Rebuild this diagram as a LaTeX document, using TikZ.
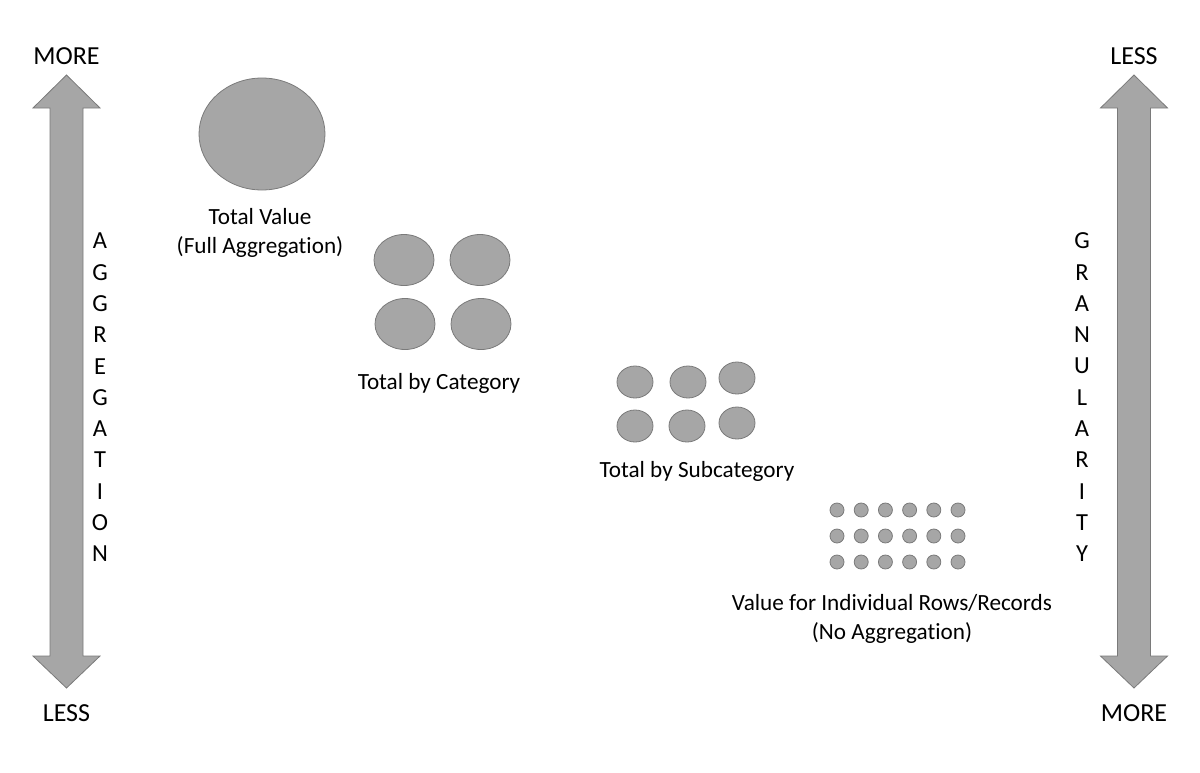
\documentclass[tikz,border=0pt]{standalone}
\usepackage{fontspec}
\setmainfont{Carlito}[Ligatures=NoCommon]
\usetikzlibrary{shapes.geometric}
\definecolor{shapefill}{HTML}{A6A6A6}
\definecolor{shapeline}{HTML}{7A7A7A}
\tikzset{
  blob/.style={ellipse, draw=shapeline, fill=shapefill, line width=0.8pt, inner sep=0pt},
  lbl/.style={font=\fontsize{23.2}{29.5}\selectfont, align=center, inner sep=0pt, text=black},
  endlbl/.style={font=\fontsize{26}{30}\selectfont, inner sep=0pt, text=black},
  vlbl/.style={font=\fontsize{24.5}{31}\selectfont, align=center, inner sep=0pt, text=black},
  bigarrow/.style={draw=shapeline, fill=shapefill, line width=0.8pt, line join=miter}
}
\begin{document}
\begin{tikzpicture}[x=1pt,y=-1pt]
\useasboundingbox (0,0) rectangle (1200,772);
% double arrows
\foreach \cx/\nm in {66.5/L,1134/R}{
  \draw[bigarrow] (\cx,75) -- (\cx+33.5,108) -- (\cx+16.5,108) -- (\cx+16.5,656) -- (\cx+33.5,656)
    -- (\cx,688) -- (\cx-33.5,656) -- (\cx-16.5,656) -- (\cx-16.5,108) -- (\cx-33.5,108) -- cycle;
}
\node[endlbl] (moreL) at (66.5,56) {MORE};
\node[endlbl] (lessL) at (66.5,713) {LESS};
\node[endlbl] (lessR) at (1134,56) {LESS};
\node[endlbl] (moreR) at (1134,713) {MORE};
% vertical words
\foreach \ch [count=\i from 0] in {A,G,G,R,E,G,A,T,I,O,N}{
  \node[vlbl] (agg\i) at (100,241+31.3*\i) {\ch};
}
\foreach \ch [count=\i from 0] in {G,R,A,N,U,L,A,R,I,T,Y}{
  \node[vlbl] (gran\i) at (1082,241+31.3*\i) {\ch};
}
% full aggregation
\node[blob, minimum width=126pt, minimum height=112pt] (total) at (262,134) {};
\node[lbl] (totallbl) at (260,233) {Total Value\\(Full Aggregation)};
% category
\node[blob, minimum width=60pt, minimum height=51pt] (c1) at (404,260) {};
\node[blob, minimum width=60pt, minimum height=51pt] (c2) at (480,260) {};
\node[blob, minimum width=60pt, minimum height=51pt] (c3) at (405,324) {};
\node[blob, minimum width=60pt, minimum height=51pt] (c4) at (481,324) {};
\node[lbl] (catlbl) at (439,383) {Total by Category};
% subcategory
\node[blob, minimum width=36pt, minimum height=32pt] (s1) at (635,382) {};
\node[blob, minimum width=36pt, minimum height=32pt] (s2) at (688,382) {};
\node[blob, minimum width=36pt, minimum height=32pt] (s3) at (737,378) {};
\node[blob, minimum width=36pt, minimum height=32pt] (s4) at (635,426) {};
\node[blob, minimum width=36pt, minimum height=32pt] (s5) at (687,426) {};
\node[blob, minimum width=36pt, minimum height=32pt] (s6) at (737,423) {};
\node[lbl] (sublbl) at (697,471) {Total by Subcategory};
% individual records
\foreach \r in {0,1,2}{
  \foreach \c in {0,...,5}{
    \node[blob, minimum width=14pt, minimum height=14pt] (d\r\c) at (837+24.2*\c,510+26*\r) {};
  }
}
\node[lbl] (indlbl) at (892,619) {Value for Individual Rows/Records\\(No Aggregation)};
\end{tikzpicture}
\end{document}
